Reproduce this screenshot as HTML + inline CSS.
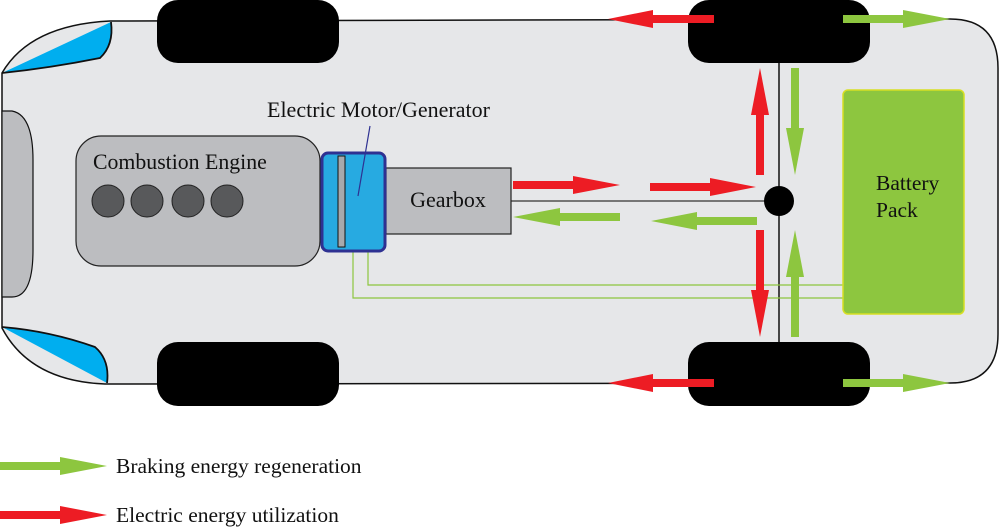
<!DOCTYPE html>
<html><head><meta charset="utf-8"><style>
html,body{margin:0;padding:0;background:#fff;}
svg{display:block;}
text{font-family:"Liberation Serif",serif;fill:#111;}
</style></head><body>
<svg width="1000" height="529" viewBox="0 0 1000 529" xmlns="http://www.w3.org/2000/svg">
<path d="M110,21 L950,19 Q998,19 998,68 L998,334 Q998,383 950,383 L105,384 Q30,381 2,328 L2,73 Q30,25 110,21 Z" fill="#e6e7e9" stroke="#111" stroke-width="1.5"/>
<path d="M2,73 L111,22 Q114,45 100,58 Q50,68 2,73 Z" fill="#00aeef"/>
<path d="M2,73 Q50,68 100,58 Q114,45 111,22" fill="none" stroke="#111" stroke-width="1.8"/>
<path d="M2,327 L107,383 Q110,360 95,347 Q50,331 2,327 Z" fill="#00aeef"/>
<path d="M2,327 Q50,331 95,347 Q110,360 107,383" fill="none" stroke="#111" stroke-width="1.8"/>
<path d="M2,111 L12,111 Q33,115 33,160 L33,250 Q33,297 12,297 L2,297 Z" fill="#bcbdc0" stroke="#111" stroke-width="1.2"/>
<rect x="157" y="0" width="182" height="63" rx="21" fill="#000"/>
<rect x="157" y="342" width="182" height="64" rx="21" fill="#000"/>
<rect x="688" y="0" width="182" height="63" rx="21" fill="#000"/>
<rect x="688" y="342" width="182" height="64" rx="21" fill="#000"/>
<line x1="779" y1="63" x2="779" y2="342" stroke="#111" stroke-width="1.5"/>
<line x1="506" y1="201" x2="775" y2="201" stroke="#333" stroke-width="1.2"/>
<circle cx="779" cy="201" r="15" fill="#000"/>
<polyline points="353,251 353,298 843,298" fill="none" stroke="#8dc63f" stroke-width="1.2"/>
<polyline points="368,251 368,285 843,285" fill="none" stroke="#8dc63f" stroke-width="1.2"/>
<rect x="843" y="90" width="121" height="224" rx="5" fill="#8dc63f" stroke="#d7df23" stroke-width="1.5"/>
<text x="876" y="190" font-size="21.5">Battery</text>
<text x="876" y="217" font-size="21.5">Pack</text>
<rect x="76" y="136" width="244" height="130" rx="25" fill="#bcbdc0" stroke="#222" stroke-width="1.2"/>
<text x="93" y="169" font-size="21.8">Combustion Engine</text>
<g fill="#58595b" stroke="#222" stroke-width="1"><circle cx="108" cy="201" r="16"/><circle cx="147" cy="201" r="16"/><circle cx="188" cy="201" r="16"/><circle cx="227" cy="201" r="16"/></g>
<rect x="386" y="168" width="125" height="66" fill="#bcbdc0" stroke="#222" stroke-width="1.2"/>
<text x="448" y="207" font-size="22" text-anchor="middle">Gearbox</text>
<rect x="322" y="153" width="63" height="98" rx="6" fill="#27aae1" stroke="#2e3192" stroke-width="3"/>
<rect x="338" y="156" width="7" height="91" fill="#a7a9ac" stroke="#111" stroke-width="1"/>
<line x1="370" y1="126" x2="358" y2="196" stroke="#2e3192" stroke-width="1.2"/>
<text x="267" y="117" font-size="22">Electric Motor/Generator</text>
<g fill="#ed1c24">
<polygon points="714,15 653,15 653,10 608,19 653,28 653,23 714,23"/>
<polygon points="714,379 653,379 653,374 608,383 653,392 653,387 714,387"/>
<polygon points="513,181 573,181 573,176 620,185 573,194 573,189 513,189"/>
<polygon points="650,183 710,183 710,178 756,187 710,196 710,191 650,191"/>
<polygon points="756,175 756,115 751,115 760,68 769,115 764,115 764,175"/>
<polygon points="756,230 756,290 751,290 760,337 769,290 764,290 764,230"/>
<polygon points="0,511 60,511 60,506 107,515 60,524 60,519 0,519"/>
</g>
<g fill="#8dc63f">
<polygon points="843,15 903,15 903,10 950,19 903,28 903,23 843,23"/>
<polygon points="843,379 903,379 903,374 950,383 903,392 903,387 843,387"/>
<polygon points="620,213 560,213 560,208 513,217 560,226 560,221 620,221"/>
<polygon points="757,217 697,217 697,212 651,221 697,230 697,225 757,225"/>
<polygon points="791,68 791,128 786,128 795,175 804,128 799,128 799,68"/>
<polygon points="791,337 791,277 786,277 795,230 804,277 799,277 799,337"/>
<polygon points="0,462 60,462 60,457 107,466 60,475 60,470 0,470"/>
</g>
<text x="116" y="473" font-size="21.5">Braking energy regeneration</text>
<text x="116" y="522" font-size="21.5">Electric energy utilization</text>
</svg>
</body></html>
